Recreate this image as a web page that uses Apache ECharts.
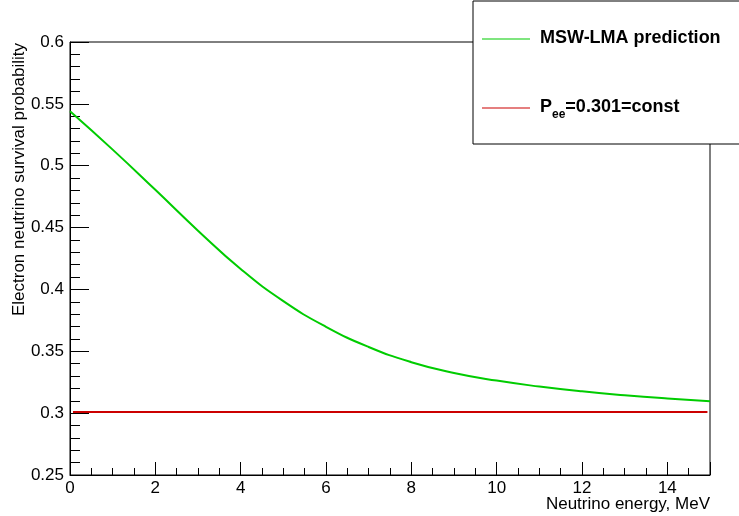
<!DOCTYPE html>
<html>
<head>
<meta charset="utf-8">
<script src="https://cdn.jsdelivr.net/npm/echarts@6/dist/echarts.min.js"></script>
<style>html,body{margin:0;padding:0;background:#fff;}#c{width:739px;height:516px;}</style>
</head>
<body>
<div id="c"></div>
<script>
var energy = [0, 1, 2, 3, 4, 5, 6, 7, 8, 9, 10, 11, 12, 13, 14, 15];
var mswLma = [0.544, 0.513, 0.4805, 0.4475, 0.4165, 0.3905, 0.3698, 0.3535, 0.3412, 0.3325, 0.3263, 0.3215, 0.3176, 0.3145, 0.3119, 0.3097];
var constEnergy = [0.07, 14.94];
var constPee = [0.301, 0.301];
var seriesNames = ['MSW-LMA prediction', 'P_ee=0.301=const'];
var xTitle = 'Neutrino energy, MeV';
var yTitle = 'Electron neutrino survival probability';

var FONT = 'Liberation Sans';
var chart = echarts.init(document.getElementById('c'), null, {renderer: 'canvas'});
function zip(a, b) { return a.map(function (v, i) { return [v, b[i]]; }); }

chart.setOption({
  animation: false,
  backgroundColor: '#fff',
  grid: {left: 70, right: 29, top: 42, bottom: 41, containLabel: false, show: true, borderColor: '#000', borderWidth: 1, backgroundColor: 'transparent'},
  xAxis: {
    type: 'value', min: 0, max: 15, interval: 2,
    axisLine: {show: true, onZero: false, lineStyle: {color: '#000', width: 1}},
    axisTick: {show: true, inside: true, length: 13, lineStyle: {color: '#000'}},
    minorTick: {show: true, splitNumber: 4, length: 7, lineStyle: {color: '#000'}},
    splitLine: {show: false},
    axisLabel: {show: true, margin: 5, color: '#000', fontFamily: FONT, fontSize: 17, showMaxLabel: false,
      formatter: function (v) { return (v === 15) ? '' : String(v); }}
  },
  yAxis: {
    type: 'value', min: 0.25, max: 0.6, interval: 0.05,
    axisLine: {show: true, onZero: false, lineStyle: {color: '#000', width: 1}},
    axisTick: {show: true, inside: true, length: 19, lineStyle: {color: '#000'}},
    minorTick: {show: true, splitNumber: 5, length: 10, lineStyle: {color: '#000'}},
    splitLine: {show: false},
    axisLabel: {show: true, margin: 6, color: '#000', fontFamily: FONT, fontSize: 17,
      formatter: function (v) { return String(parseFloat(v.toFixed(3))); }}
  },
  legend: {
    orient: 'vertical', left: 473, top: 1,
    padding: [28, 30, 23, 9],
    itemGap: 51, itemWidth: 48, itemHeight: 1,
    backgroundColor: '#fff', borderColor: '#000', borderWidth: 1,
    selectedMode: false,
    data: [
      {name: seriesNames[0], icon: 'rect', itemStyle: {color: '#00cc00', borderWidth: 0}},
      {name: seriesNames[1], icon: 'rect', itemStyle: {color: '#cc0000', borderWidth: 0}}
    ],
    formatter: function (name) {
      if (name === seriesNames[1]) return '{p|P}{s|ee}{a|=0.301=const}';
      return '{p|' + name + '}';
    },
    textStyle: {
      color: '#000',
      rich: {
        p: {fontFamily: FONT, fontSize: 18, fontWeight: 'bold', color: '#000', lineHeight: 20, verticalAlign: 'top', padding: [0, 0, 0, 5]},
        a: {fontFamily: FONT, fontSize: 18, fontWeight: 'bold', color: '#000', lineHeight: 20, verticalAlign: 'top'},
        s: {fontFamily: FONT, fontSize: 12, fontWeight: 'bold', color: '#000', lineHeight: 12, verticalAlign: 'top', padding: [11, 0, 0, 0]}
      }
    }
  },
  graphic: [
    {type: 'text', x: 710, y: 504, z: 100,
      style: {text: xTitle, font: '17px "' + FONT + '"', fill: '#000', textAlign: 'right', textVerticalAlign: 'middle'}},
    {type: 'text', x: 19, y: 43, rotation: Math.PI / 2, z: 100,
      style: {text: yTitle, font: '17px "' + FONT + '"', fill: '#000', textAlign: 'right', textVerticalAlign: 'middle'}}
  ],
  series: [
    {name: seriesNames[0], type: 'line', data: zip(energy, mswLma), smooth: 0.5, symbol: 'none',
      lineStyle: {color: '#00cc00', width: 2}, itemStyle: {color: '#00cc00'}, z: 3},
    {name: seriesNames[1], type: 'line', data: zip(constEnergy, constPee), symbol: 'none',
      lineStyle: {color: '#cc0000', width: 2}, itemStyle: {color: '#cc0000'}, z: 2}
  ]
});
</script>
</body>
</html>
